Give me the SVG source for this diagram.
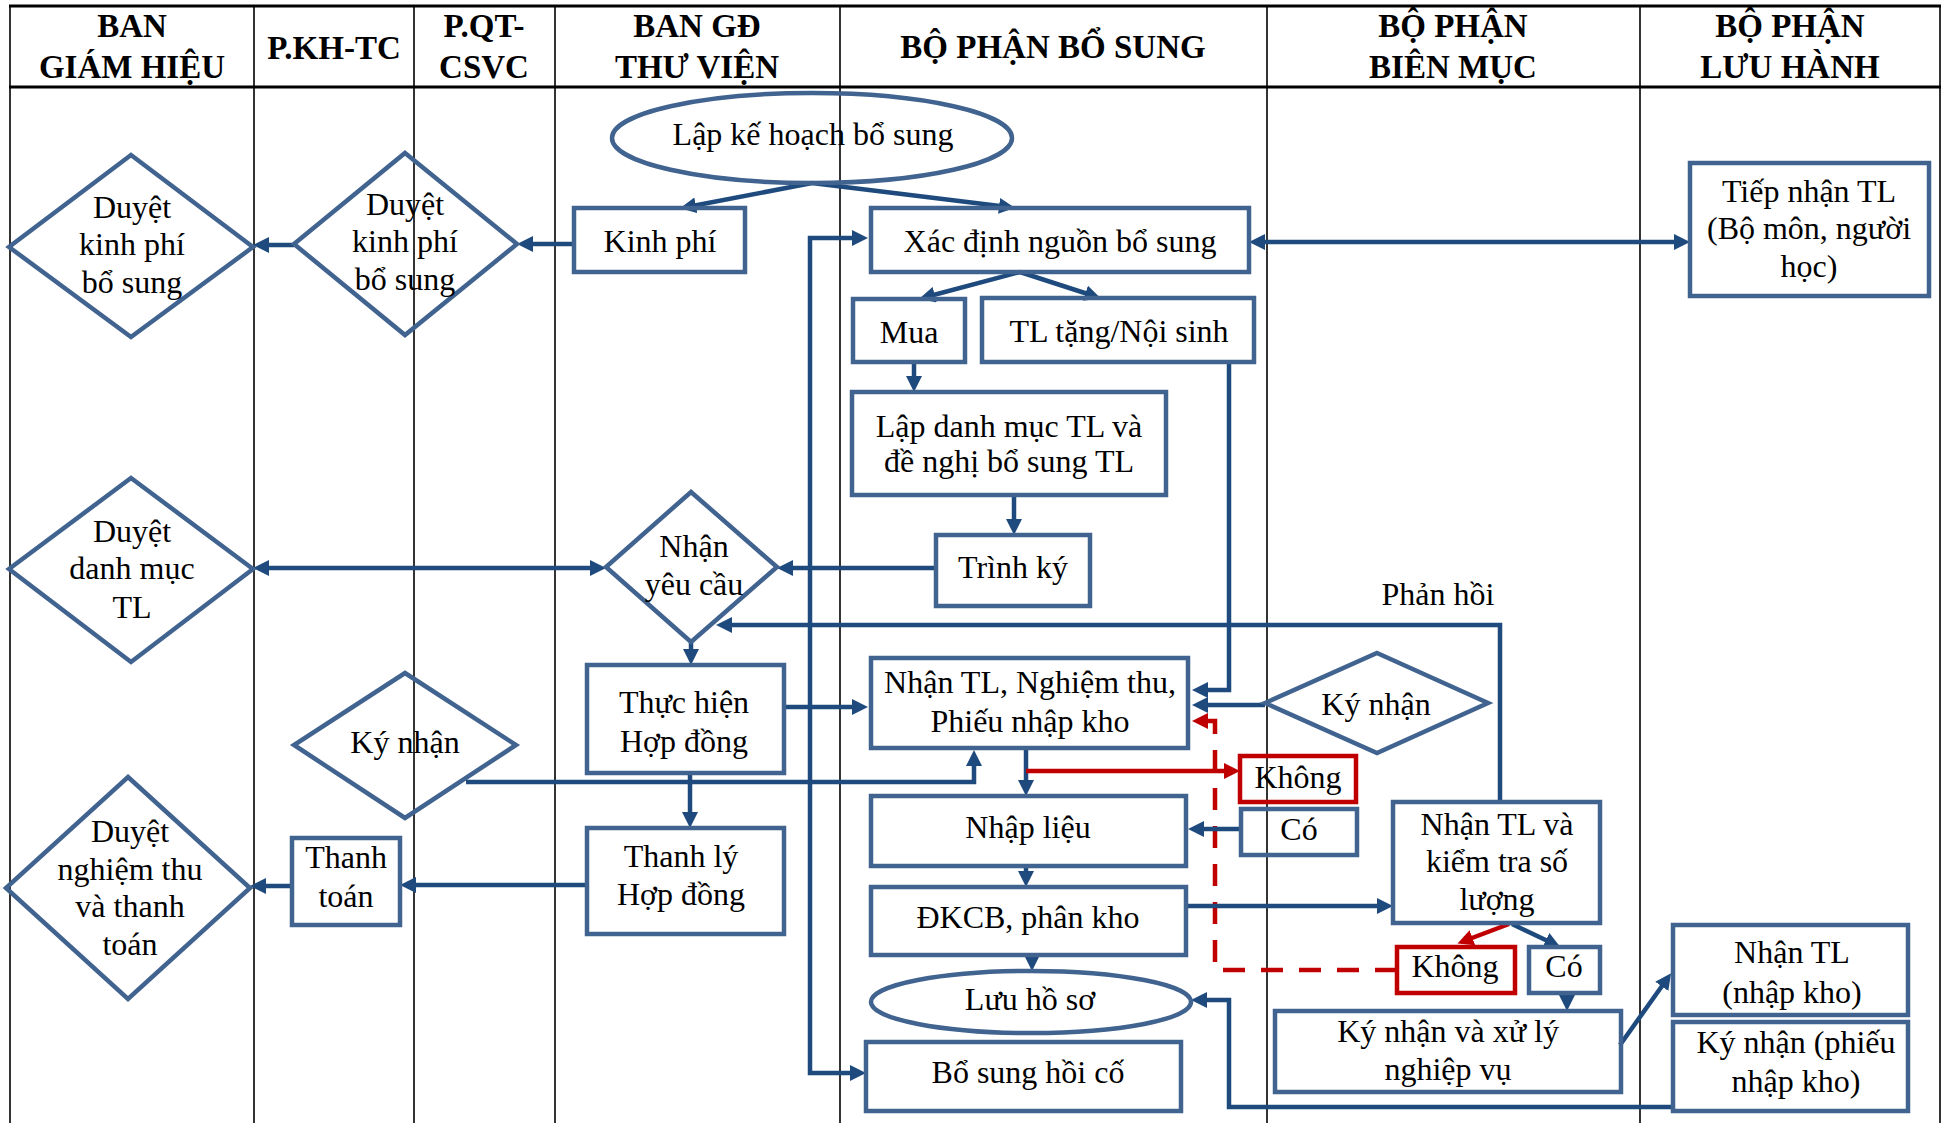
<svg xmlns="http://www.w3.org/2000/svg" width="1946" height="1123" viewBox="0 0 1946 1123">
<style>
.ln{stroke:#000;stroke-width:1.6;fill:none}
.bd{stroke:#000;stroke-width:3;fill:none}
.hd{font-family:"Liberation Serif","Times New Roman",serif;font-weight:bold;font-size:33px;text-anchor:middle;fill:#000}
.t{font-family:"Liberation Serif","Times New Roman",serif;font-size:32px;text-anchor:middle;fill:#000}
.n{fill:none;stroke:#41638F;stroke-width:4.5}
.r{fill:none;stroke:#C00000;stroke-width:4.5}
.c{fill:none;stroke:#1F4A7E;stroke-width:4.5}
.cr{fill:none;stroke:#C00000;stroke-width:4.5}
.dash{stroke-dasharray:22 16}
</style>
<defs>
<marker id="a" markerUnits="userSpaceOnUse" markerWidth="16" markerHeight="16" refX="9" refY="8" orient="auto-start-reverse"><path d="M0,0 L16,8 L0,16 z" fill="#1F4A7E"/></marker>
<marker id="ar" markerUnits="userSpaceOnUse" markerWidth="16" markerHeight="16" refX="9" refY="8" orient="auto-start-reverse"><path d="M0,0 L16,8 L0,16 z" fill="#C00000"/></marker>
</defs>
<rect width="1946" height="1123" fill="#fff"/>
<g id="table">
<line class="bd" x1="9" y1="6" x2="1941" y2="6"/>
<line class="bd" x1="9" y1="87" x2="1941" y2="87"/>
<line class="ln" x1="10" y1="6" x2="10" y2="1123"/>
<line class="ln" x1="254" y1="6" x2="254" y2="1123"/>
<line class="ln" x1="414" y1="6" x2="414" y2="1123"/>
<line class="ln" x1="555" y1="6" x2="555" y2="1123"/>
<line class="ln" x1="840" y1="6" x2="840" y2="1123"/>
<line class="ln" x1="1267" y1="6" x2="1267" y2="1123"/>
<line class="ln" x1="1640" y1="6" x2="1640" y2="1123"/>
<line class="ln" x1="1940" y1="6" x2="1940" y2="1123"/>
<text class="hd" x="132" y="37">BAN</text><text class="hd" x="132" y="78">GIÁM HIỆU</text>
<text class="hd" x="334" y="59">P.KH-TC</text>
<text class="hd" x="484" y="37">P.QT-</text><text class="hd" x="484" y="78">CSVC</text>
<text class="hd" x="697" y="37">BAN GĐ</text><text class="hd" x="697" y="78">THƯ VIỆN</text>
<text class="hd" x="1053" y="58">BỘ PHẬN BỔ SUNG</text>
<text class="hd" x="1453" y="37">BỘ PHẬN</text><text class="hd" x="1453" y="78">BIÊN MỤC</text>
<text class="hd" x="1790" y="37">BỘ PHẬN</text><text class="hd" x="1790" y="78">LƯU HÀNH</text>
</g>
<g id="connectors">
<path class="c" d="M812,183 L687,207" marker-end="url(#a)"/>
<path class="c" d="M812,183 L1008,207" marker-end="url(#a)"/>
<path class="c" d="M574,244 L524,244" marker-end="url(#a)"/>
<path class="c" d="M294,245 L260,245" marker-end="url(#a)"/>
<path class="c" d="M1256,242 L1683,242" marker-start="url(#a)" marker-end="url(#a)"/>
<path class="c" d="M1020,272 L926,297" marker-end="url(#a)"/>
<path class="c" d="M1020,272 L1094,296" marker-end="url(#a)"/>
<path class="c" d="M914,363 L914,385" marker-end="url(#a)"/>
<path class="c" d="M1014,495 L1014,528" marker-end="url(#a)"/>
<path class="c" d="M936,568 L784,568" marker-end="url(#a)"/>
<path class="c" d="M260,568 L599,568" marker-start="url(#a)" marker-end="url(#a)"/>
<path class="c" d="M691,642 L691,658" marker-end="url(#a)"/>
<path class="c" d="M784,707 L861,707" marker-end="url(#a)"/>
<path class="c" d="M690,773 L690,821" marker-end="url(#a)"/>
<path class="c" d="M587,885 L407,885" marker-end="url(#a)"/>
<path class="c" d="M292,886 L257,886" marker-end="url(#a)"/>
<path class="c" d="M861,238 L810,238 L810,1073 L859,1073" marker-start="url(#a)" marker-end="url(#a)"/>
<path class="c" d="M1229,362 L1229,690 L1199,690" marker-end="url(#a)"/>
<path class="c" d="M1265,705 L1199,705" marker-end="url(#a)"/>
<path class="cr dash" d="M1397,970 L1215,970 L1215,721 L1199,721" marker-end="url(#ar)"/>
<path class="c" d="M1500,802 L1500,625 L723,625" marker-end="url(#a)"/>
<path class="c" d="M466,782 L974,782 L974,757" marker-end="url(#a)"/>
<path class="c" d="M1026,748 L1026,789" marker-end="url(#a)"/>
<path class="cr" d="M1026,771 L1233,771" marker-end="url(#ar)"/>
<path class="c" d="M1241,829 L1195,829" marker-end="url(#a)"/>
<path class="c" d="M1026,866 L1026,880" marker-end="url(#a)"/>
<path class="c" d="M1032,955 L1032,964" marker-end="url(#a)"/>
<path class="c" d="M1186,906 L1386,906" marker-end="url(#a)"/>
<path class="cr" d="M1509,924 L1464,941" marker-end="url(#ar)"/>
<path class="c" d="M1512,924 L1554,944" marker-end="url(#a)"/>
<path class="c" d="M1567,993 L1567,1004" marker-end="url(#a)"/>
<path class="c" d="M1620,1045 L1667,979" marker-end="url(#a)"/>
<path class="c" d="M1673,1107 L1229,1107 L1229,1000 L1198,1000" marker-end="url(#a)"/>
<text class="t" x="1438" y="605">Phản hồi</text>
</g>
<g id="n-lapkehoach"><ellipse class="n" cx="812" cy="138" rx="200" ry="45"/><text class="t" x="813" y="145">Lập kế hoạch bổ sung</text></g>
<g id="n-duyetkp1"><polygon class="n" points="131,155 253,247 131,337 9,247"/><text class="t" x="132" y="218">Duyệt</text><text class="t" x="132" y="255">kinh phí</text><text class="t" x="132" y="293">bổ sung</text></g>
<g id="n-duyetkp2"><polygon class="n" points="405,153 517,244 405,335 294,244"/><text class="t" x="405" y="215">Duyệt</text><text class="t" x="405" y="252">kinh phí</text><text class="t" x="405" y="290">bổ sung</text></g>
<g id="n-kinhphi"><rect class="n" x="574" y="208" width="171" height="64"/><text class="t" x="660" y="252">Kinh phí</text></g>
<g id="n-xacdinh"><rect class="n" x="871" y="208" width="378" height="64"/><text class="t" x="1060" y="252">Xác định nguồn bổ sung</text></g>
<g id="n-tiepnhan"><rect class="n" x="1690" y="163" width="239" height="133"/><text class="t" x="1809" y="202">Tiếp nhận TL</text><text class="t" x="1809" y="239">(Bộ môn, người</text><text class="t" x="1809" y="277">học)</text></g>
<g id="n-mua"><rect class="n" x="853" y="299" width="112" height="63"/><text class="t" x="909" y="343">Mua</text></g>
<g id="n-tltang"><rect class="n" x="982" y="298" width="272" height="64"/><text class="t" x="1119" y="342">TL tặng/Nội sinh</text></g>
<g id="n-lapdanhmuc"><rect class="n" x="852" y="392" width="314" height="103"/><text class="t" x="1009" y="437">Lập danh mục TL và</text><text class="t" x="1009" y="472">đề nghị bổ sung TL</text></g>
<g id="n-trinhky"><rect class="n" x="936" y="535" width="154" height="71"/><text class="t" x="1013" y="578">Trình ký</text></g>
<g id="n-nhanyeucau"><polygon class="n" points="691,492 777,567 691,642 606,567"/><text class="t" x="694" y="557">Nhận</text><text class="t" x="694" y="595">yêu cầu</text></g>
<g id="n-duyetdm"><polygon class="n" points="131,478 253,569 131,662 9,569"/><text class="t" x="132" y="542">Duyệt</text><text class="t" x="132" y="579">danh mục</text><text class="t" x="132" y="618">TL</text></g>
<g id="n-thuchien"><rect class="n" x="587" y="665" width="197" height="108"/><text class="t" x="684" y="713">Thực hiện</text><text class="t" x="684" y="752">Hợp đồng</text></g>
<g id="n-nhantl"><rect class="n" x="871" y="658" width="317" height="90"/><text class="t" x="1030" y="693">Nhận TL, Nghiệm thu,</text><text class="t" x="1030" y="732">Phiếu nhập kho</text></g>
<g id="n-kynhan-bm"><polygon class="n" points="1377,653 1488,703 1377,753 1265,703"/><text class="t" x="1376" y="715">Ký nhận</text></g>
<g id="n-kynhan-kh"><polygon class="n" points="405,673 516,745 405,818 294,745"/><text class="t" x="405" y="753">Ký nhận</text></g>
<g id="n-thanhly"><rect class="n" x="587" y="828" width="197" height="106"/><text class="t" x="681" y="867">Thanh lý</text><text class="t" x="681" y="905">Hợp đồng</text></g>
<g id="n-thanhtoan"><rect class="n" x="292" y="838" width="108" height="87"/><text class="t" x="346" y="868">Thanh</text><text class="t" x="346" y="907">toán</text></g>
<g id="n-duyetnt"><polygon class="n" points="128,777 250,888 128,999 6,888"/><text class="t" x="130" y="842">Duyệt</text><text class="t" x="130" y="880">nghiệm thu</text><text class="t" x="130" y="917">và thanh</text><text class="t" x="130" y="955">toán</text></g>
<g id="n-nhaplieu"><rect class="n" x="871" y="796" width="315" height="70"/><text class="t" x="1028" y="838">Nhập liệu</text></g>
<g id="n-dkcb"><rect class="n" x="871" y="887" width="315" height="68"/><text class="t" x="1028" y="928">ĐKCB, phân kho</text></g>
<g id="n-luuhoso"><ellipse class="n" cx="1031" cy="1002" rx="160" ry="31"/><text class="t" x="1030" y="1010">Lưu hồ sơ</text></g>
<g id="n-bosunghoico"><rect class="n" x="866" y="1042" width="315" height="69"/><text class="t" x="1028" y="1083">Bổ sung hồi cố</text></g>
<g id="n-khong1"><rect class="r" x="1240" y="756" width="116" height="46"/><text class="t" x="1298" y="788">Không</text></g>
<g id="n-co1"><rect class="n" x="1241" y="809" width="116" height="46"/><text class="t" x="1299" y="840">Có</text></g>
<g id="n-kiemtra"><rect class="n" x="1393" y="802" width="207" height="121"/><text class="t" x="1497" y="835">Nhận TL và</text><text class="t" x="1497" y="872">kiểm tra số</text><text class="t" x="1497" y="910">lượng</text></g>
<g id="n-khong2"><rect class="r" x="1397" y="947" width="118" height="46"/><text class="t" x="1455" y="977">Không</text></g>
<g id="n-co2"><rect class="n" x="1529" y="947" width="71" height="46"/><text class="t" x="1564" y="977">Có</text></g>
<g id="n-kynhanxuly"><rect class="n" x="1275" y="1011" width="346" height="81"/><text class="t" x="1448" y="1042">Ký nhận và xử lý</text><text class="t" x="1448" y="1080">nghiệp vụ</text></g>
<g id="n-nhantlkho"><rect class="n" x="1673" y="925" width="235" height="90"/><text class="t" x="1792" y="963">Nhận TL</text><text class="t" x="1792" y="1003">(nhập kho)</text></g>
<g id="n-kynhanphieu"><rect class="n" x="1673" y="1022" width="235" height="89"/><text class="t" x="1796" y="1053">Ký nhận (phiếu</text><text class="t" x="1796" y="1092">nhập kho)</text></g>
</svg>
